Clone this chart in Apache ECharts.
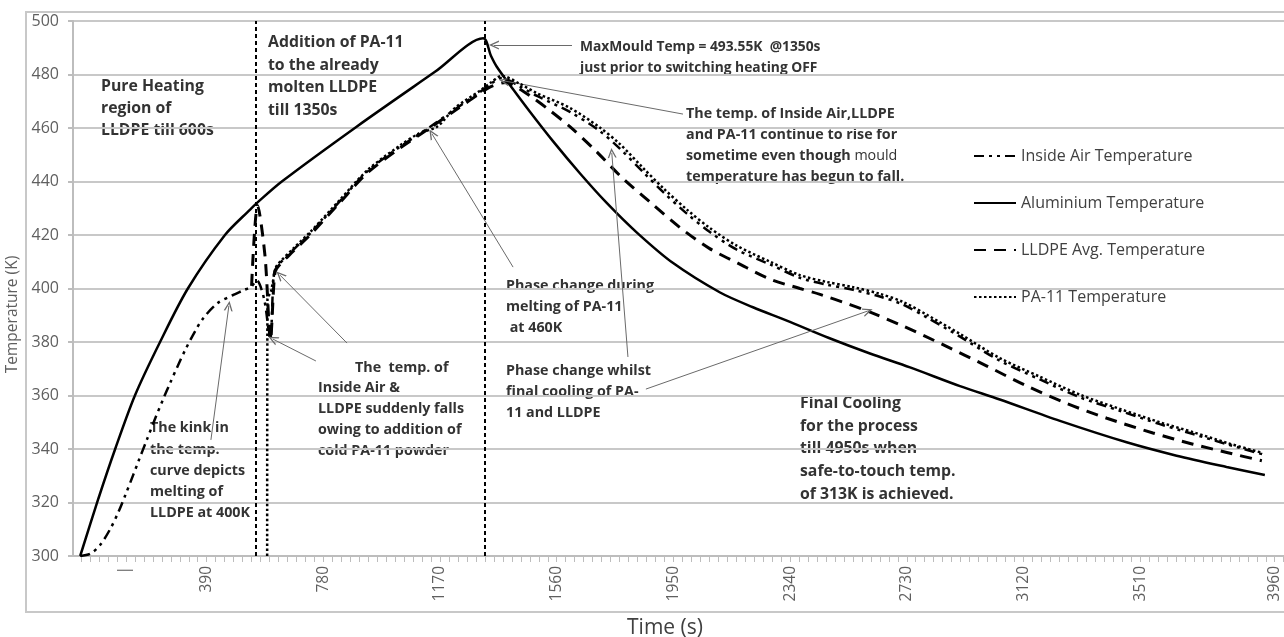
<!DOCTYPE html>
<html>
<head>
<meta charset="utf-8">
<script src="https://cdn.jsdelivr.net/npm/echarts@6/dist/echarts.min.js"></script>
<style>
html,body{margin:0;padding:0;background:#fff;}
#chart{width:1284px;height:637px;}
</style>
</head>
<body>
<div id="chart"></div>
<script>
// ---------- data (x in s, as on the axis; y in K) ----------
const airTime = [-33, 0, 33, 67, 95, 117, 145, 162, 190, 218, 245, 267, 295, 318, 351, 379, 426, 479, 512, 540, 557, 582, 602, 614, 624, 680, 735, 830, 925, 1030, 1136, 1220, 1304, 1340, 1376, 1437, 1494, 1604, 1700, 1771, 1849, 1916, 1995, 2073, 2162, 2273, 2373, 2460, 2551, 2640, 2717, 2800, 2908, 3041, 3175, 3309, 3442, 3576, 3687, 3800, 3920];
const airTemp = [300, 300.8, 304, 310, 316.5, 322.5, 330.5, 335.5, 343.5, 351.5, 358.8, 364.5, 371.5, 377, 384, 389, 394.5, 397.6, 399.3, 400.8, 403, 396, 381, 405, 408, 414.5, 420.5, 432, 443.6, 452.5, 460.4, 467, 473.5, 476.5, 478.7, 475.5, 472, 466, 459.2, 452.3, 443.5, 436, 428, 421, 414.5, 409, 404, 401.5, 399.5, 397, 394, 389, 382, 373, 366, 359.3, 354.3, 349.3, 345.6, 341.8, 338];

const alTime = [-33, 28, 84, 150, 234, 327, 451, 535, 558, 641, 891, 1153, 1314, 1340, 1359, 1414, 1471, 1548, 1638, 1727, 1827, 1949, 2106, 2216, 2329, 2470, 2607, 2741, 2908, 3041, 3242, 3465, 3632, 3799, 3927];
const alTemp = [300, 321.5, 340, 360, 380, 400, 420, 429.5, 432, 440, 460.5, 481, 493.55, 487, 483, 474.5, 466, 455, 443, 432, 421, 409.5, 398.5, 393, 388, 381.5, 375.7, 370.5, 363.5, 358.5, 350.5, 342.5, 337.5, 333.3, 330.3];

const lldTime = [540, 560, 585, 603, 616, 624, 680, 735, 830, 925, 1030, 1136, 1220, 1304, 1340, 1390, 1437, 1471, 1526, 1604, 1690, 1775, 1875, 1975, 2070, 2165, 2273, 2373, 2440, 2540, 2600, 2717, 2851, 2998, 3132, 3265, 3399, 3553, 3687, 3800, 3917];
const lldTemp = [401, 431, 412, 381, 404, 407.5, 414, 420, 431.5, 443, 452, 460, 466.5, 473, 475.5, 477, 474.5, 472, 467.5, 460.5, 451.5, 441.8, 432, 422.5, 415, 409.5, 403.5, 400, 397.8, 394, 391.5, 386, 379, 371, 363.5, 357, 351.5, 346, 341.8, 338.7, 335.6];

const paTime = [592, 593, 605, 616, 624, 680, 735, 830, 925, 1030, 1100, 1160, 1220, 1304, 1340, 1376, 1437, 1494, 1604, 1700, 1771, 1849, 1916, 1995, 2073, 2162, 2273, 2373, 2460, 2551, 2640, 2717, 2800, 2908, 3041, 3175, 3309, 3442, 3576, 3687, 3800, 3920];
const paTemp = [300, 396, 399, 405.5, 408.5, 415, 421, 432.5, 444, 453, 458, 460.5, 467.5, 474, 477, 479.5, 476.5, 473, 467.5, 460.5, 454, 445, 437.5, 429.5, 422.5, 416, 410, 405, 402.5, 400.5, 398, 395, 390, 383, 374, 367, 360.3, 355, 350, 346.3, 342.3, 338.5];

const seriesNames = ['Inside Air Temperature', 'Aluminium Temperature', 'LLDPE Avg. Temperature', 'PA-11 Temperature'];

// axis tick labels as printed
const xLabelValues = [117, 390, 780, 1170, 1560, 1950, 2340, 2730, 3120, 3510, 3960];
const xLabelTexts  = ['|', '390', '780', '1170', '1560', '1950', '2340', '2730', '3120', '3510', '3960'];
const yTicks = [300, 320, 340, 360, 380, 400, 420, 440, 460, 480, 500];

// phase boundaries (s on axis)
const phaseLines = [553, 1318];

// annotation arrows: [tailX, tailY, headX, headY] in axis units
const arrows = [
  [1611, 491.0, 1350, 491.0],
  [1982, 465.2, 1384, 477.6],
  [404, 343.4, 464, 393.5],
  [755, 372.9, 611, 381.1],
  [859, 379.6, 635, 405.0],
  [1414, 408.0, 1143, 457.8],
  [1798, 374.4, 1744, 450.7],
  [1858, 362.4, 2600, 391.6]
];

// ---------- chart ----------
const pairs = (t, v) => t.map((x, i) => [x, v[i]]);
const minorTicks = [];
for (let v = -30; v <= 3990; v += 30) minorTicks.push(v);

const FONT = 'Open Sans';
const annColor = '#333333';
const fBig = 'bold 15.8px "Open Sans"';
const fMid = 'bold 14.3px "Open Sans"';
const fMax = 'bold 13.8px "Open Sans"';

function txt(x, y, text, lh, font) {
  return {
    type: 'text', x: x, y: y, silent: true,
    style: { text: text, font: font, fill: annColor, lineHeight: lh, verticalAlign: 'top', align: 'left' }
  };
}

const chart = echarts.init(document.getElementById('chart'), null, { renderer: 'canvas' });

const lineBase = { type: 'line', symbol: 'none', smooth: 0.3, animation: false };

chart.setOption({
  backgroundColor: '#ffffff',
  animation: false,
  grid: { left: 73, right: 0, top: 21, bottom: 81, containLabel: false, outerBoundsMode: 'none' },
  legend: {
    data: seriesNames,
    orient: 'vertical',
    left: 973, top: 148,
    itemWidth: 42, itemHeight: 14, itemGap: 31,
    padding: 0,
    itemStyle: { opacity: 0 },
    textStyle: { fontFamily: FONT, fontSize: 16, color: '#404040' }
  },
  xAxis: {
    type: 'value', min: -57, max: 3991,
    name: 'Time (s)', nameLocation: 'middle', nameGap: 62,
    nameTextStyle: { fontFamily: FONT, fontSize: 21, color: '#404040', padding: [0, 27, 0, 0] },
    axisLine: { show: true, onZero: false, lineStyle: { color: '#bdbdbd', width: 2 } },
    axisTick: { show: true, customValues: minorTicks, length: 6, inside: false, lineStyle: { color: '#bdbdbd', width: 1 } },
    axisLabel: {
      customValues: xLabelValues, rotate: 90, margin: 10,
      fontFamily: FONT, fontSize: 15.5, color: '#5f5f5f',
      formatter: v => { const i = xLabelValues.indexOf(v); return i >= 0 ? xLabelTexts[i] : ''; }
    },
    splitLine: { show: false }
  },
  yAxis: {
    type: 'value', min: 300, max: 500, interval: 20,
    name: 'Temperature (K)', nameLocation: 'middle', nameGap: 46, nameRotate: 90,
    nameTextStyle: { fontFamily: FONT, fontSize: 15.5, color: '#5f5f5f', padding: [0, 52, 0, 0] },
    axisLine: { show: true, onZero: false, lineStyle: { color: '#bdbdbd', width: 2 } },
    axisTick: { show: true, length: 5, lineStyle: { color: '#bdbdbd', width: 2 } },
    axisLabel: { margin: 14, fontFamily: FONT, fontSize: 16, color: '#5f5f5f',
      formatter: v => yTicks.indexOf(v) >= 0 ? String(v) : '' },
    splitLine: { show: true, lineStyle: { color: '#c8c8c8', width: 2 } }
  },
  series: [
    Object.assign({}, lineBase, {
      name: seriesNames[0], z: 4, data: pairs(airTime, airTemp),
      lineStyle: { color: '#000', width: 2.5, type: [10, 5, 3, 5, 3, 5] }, itemStyle: { color: '#000' }
    }),
    Object.assign({}, lineBase, {
      name: seriesNames[1], z: 3, data: pairs(alTime, alTemp),
      lineStyle: { color: '#000', width: 2.5, type: 'solid' }, itemStyle: { color: '#000' }
    }),
    Object.assign({}, lineBase, {
      name: seriesNames[2], z: 3, data: pairs(lldTime, lldTemp),
      lineStyle: { color: '#000', width: 3, type: [12, 8] }, itemStyle: { color: '#000' }
    }),
    Object.assign({}, lineBase, {
      name: seriesNames[3], z: 5, data: pairs(paTime, paTemp),
      lineStyle: { color: '#000', width: 2.5, type: [2.5, 2.5] }, itemStyle: { color: '#000' }
    }),
    {
      type: 'line', name: 'phases', data: [], silent: true, animation: false,
      markLine: {
        silent: true, animation: false, symbol: ['none', 'none'],
        label: { show: false },
        lineStyle: { color: '#000', width: 2, type: [4, 3] },
        emphasis: { disabled: true },
        data: phaseLines.map(x => ({ xAxis: x }))
      }
    },
    {
      type: 'line', name: 'notes', data: [], silent: true, animation: false,
      markLine: {
        silent: true, animation: false,
        symbol: ['none', 'path://M5,0L10,10L8.4,10L5,3.2L1.6,10L0,10Z'],
        symbolSize: [9, 10],
        label: { show: false },
        lineStyle: { color: '#6a6a6a', width: 1, type: 'solid' },
        emphasis: { disabled: true },
        data: arrows.map(a => [{ coord: [a[0], a[1]] }, { coord: [a[2], a[3]] }])
      }
    }
  ],
  graphic: [
    { type: 'rect', silent: true, shape: { x: 26, y: 12, width: 1300, height: 600 },
      style: { fill: 'none', stroke: '#c8c8c8', lineWidth: 2 } },
    txt(101, 75, 'Pure Heating\nregion of\nLLDPE till 600s', 22.3, fBig),
    txt(268, 31, 'Addition of PA-11\nto the already\nmolten LLDPE\ntill 1350s', 22.7, fBig),
    txt(580, 36, 'MaxMould Temp = 493.55K  @1350s\njust prior to switching heating OFF', 21.7, fMax),
    {
      type: 'text', x: 686, y: 103, silent: true,
      style: {
        text: 'The temp. of Inside Air,LLDPE\nand PA-11 continue to rise for\nsometime even though {r|mould}\ntemperature has begun to fall.',
        font: fMid, fill: annColor, lineHeight: 21, verticalAlign: 'top', align: 'left',
        rich: { r: { fontFamily: FONT, fontSize: 14.3, fontWeight: 'normal', fill: annColor, lineHeight: 21 } }
      }
    },
    txt(506, 276, 'Phase change during\nmelting of PA-11\n at 460K', 20.8, fMid),
    txt(506, 360, 'Phase change whilst\nfinal cooling of PA-\n11 and LLDPE', 21, fMid),
    txt(800, 392, 'Final Cooling\nfor the process\ntill 4950s when\nsafe-to-touch temp.\nof 313K is achieved.', 22.7, fBig),
    txt(150, 417.5, 'The kink in\nthe temp.\ncurve depicts\nmelting of\nLLDPE at 400K', 21.3, fMid),
    txt(355, 357, 'The  temp. of', 21, fMid),
    txt(318, 377, 'Inside Air &\nLLDPE suddenly falls\nowing to addition of\ncold PA-11 powder', 21, fMid)
  ]
});
</script>
</body>
</html>
